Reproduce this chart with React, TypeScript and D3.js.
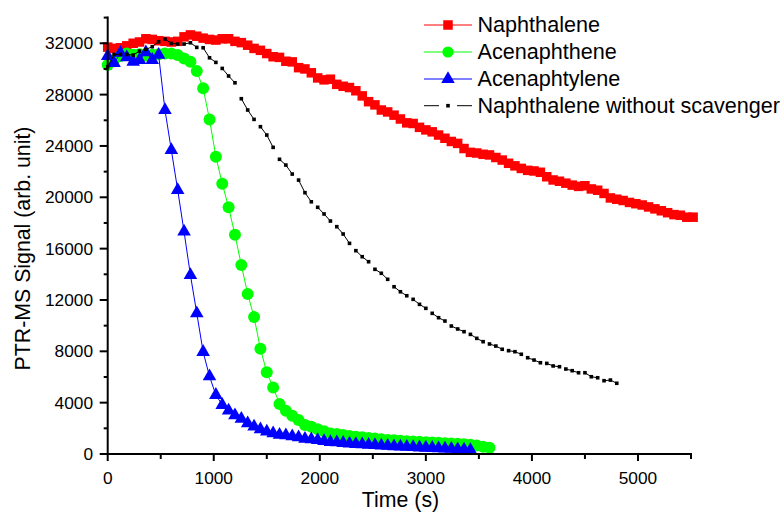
import React from "react";
import * as d3 from "d3";

const INTERVAL_S = 60;

const naphthalene = [
  31700, 31600, 31650, 31800, 32000, 32100, 32350, 32300, 32200, 32150,
  32100, 32150, 32500, 32650, 32550, 32400, 32300, 32250, 32350, 32350,
  32150, 32050, 31850, 31600, 31450, 31200, 30950, 30900, 30600, 30550,
  30100, 30000, 29700, 29300, 29150, 29200, 28800, 28650, 28550, 28300,
  27900, 27450, 27200, 26800, 26650, 26400, 26100, 25800, 25750, 25450,
  25250, 25100, 24850, 24600, 24350, 24200, 23800, 23500, 23450, 23350,
  23300, 23100, 22900, 22650, 22450, 22250, 22100, 22050, 21950, 21600,
  21350, 21250, 21100, 20950, 20850, 20900, 20650, 20550, 20300, 19950,
  19850, 19750, 19600, 19500, 19400, 19250, 19100, 18950, 18800, 18650,
  18600, 18450, 18450,
];

const acenaphthene = [
  30300, 30700, 31000, 31200, 31100, 31150, 31050, 31100, 31150, 31200,
  31200, 31080, 30820, 30560, 29830, 28490, 26070, 23160, 21060, 19220,
  17080, 14720, 12460, 10670, 8200, 6360, 5190, 3900, 3370, 2980,
  2650, 2260, 2130, 1920, 1770, 1600, 1550, 1480, 1400, 1350,
  1300, 1250, 1200, 1150, 1100, 1080, 1040, 1000, 980, 950,
  920, 890, 870, 840, 810, 800, 760, 720, 660, 570,
  480,
];

const acenaphtylene = [
  31000, 30450, 31250, 30900, 30550, 30700, 31300, 30700, 31100, 26800,
  23680, 20570, 17320, 13940, 10960, 7950, 6050, 4600, 3820, 3380,
  3020, 2740, 2390, 2130, 1920, 1740, 1610, 1500, 1450, 1380,
  1300, 1190, 1140, 1080, 1010, 935, 900, 860, 820, 780,
  750, 720, 690, 660, 630, 600, 575, 550, 530, 510,
  490, 470, 450, 430, 400, 370, 340, 310,
];

const naphthaleneNoScavenger = [
  30170, 31130, 31130, 31130, 31080, 31390, 31520, 31730, 32120, 32330,
  31990, 31940, 31940, 32040, 31680, 31650, 30870, 30510, 30040, 29450,
  28920, 27680, 26800, 26070, 25500, 24850, 23890, 22960, 22510, 21810,
  21340, 20360, 19650, 19220, 18700, 18150, 17710, 17140, 16410, 15840,
  15370, 14980, 14390, 14080, 13610, 13030, 12640, 12330, 12050, 11660,
  11350, 10960, 10620, 10360, 9970, 9740, 9530, 9320, 9010, 8750,
  8570, 8410, 8160, 8050, 7970, 7770, 7500, 7320, 7110, 7060,
  6860, 6800, 6620, 6490, 6330, 6330, 6020, 5940, 5710, 5760,
  5510,
];

const seriesNames = [
  "Naphthalene",
  "Acenaphthene",
  "Acenaphtylene",
  "Naphthalene without scavenger",
];

const xMajorTicks = [0, 1000, 2000, 3000, 4000, 5000];
const xMinorTicks = [500, 1500, 2500, 3500, 4500, 5500];
const yMajorTicks = [0, 4000, 8000, 12000, 16000, 20000, 24000, 28000, 32000];
const yMinorTicks = [2000, 6000, 10000, 14000, 18000, 22000, 26000, 30000, 34000];

const xTitle = "Time (s)";
const yTitle = "PTR-MS Signal (arb. unit)";

const W = 783;
const H = 513;
const FONT = "'Liberation Sans', Arial, sans-serif";

type Pt = [number, number];

export default function App() {
  const x = d3.scaleLinear().domain([0, 5500]).range([107.7, 691]);
  const y = d3.scaleLinear().domain([0, 34000]).range([454, 17.6]);

  const toPts = (vals: number[]): Pt[] =>
    vals.map((v, i) => [x(i * INTERVAL_S), y(v)] as Pt);

  const line = d3.line<Pt>().x((d) => d[0]).y((d) => d[1]);

  const red = toPts(naphthalene);
  const green = toPts(acenaphthene);
  const blue = toPts(acenaphtylene);
  const black = toPts(naphthaleneNoScavenger);

  const triPath = d3.symbol().type(d3.symbolTriangle).size(80)() || "";
  const sq = 9.5;
  const bsq = 3.6;

  // black series: dashed per point groups (two segments drawn, one skipped)
  const blackSegs: [Pt, Pt][] = [];
  for (let i = 0; i < black.length - 1; i++) {
    if (i % 3 !== 2) blackSegs.push([black[i], black[i + 1]]);
  }

  const legendY = [25, 52, 79, 105.7];
  const lx0 = 424;
  const lx1 = 472;
  const lmx = 448;

  return (
    <svg
      width={W}
      height={H}
      style={{ position: "absolute", left: 0, top: 0, background: "#fff" }}
      fontFamily={FONT}
    >
      <rect x={0} y={0} width={W} height={H} fill="#fff" />

      {/* Naphthalene */}
      <path d={line(red) || ""} fill="none" stroke="#ff0000" strokeWidth={1} />
      {red.map((p, i) => (
        <rect key={"r" + i} x={p[0] - sq / 2} y={p[1] - sq / 2} width={sq} height={sq} fill="#ff0000" />
      ))}

      {/* Acenaphthene */}
      <path d={line(green) || ""} fill="none" stroke="#00ff00" strokeWidth={1} />
      {green.map((p, i) => (
        <circle key={"g" + i} cx={p[0]} cy={p[1]} r={6} fill="#00ff00" />
      ))}

      {/* Acenaphtylene */}
      <path d={line(blue) || ""} fill="none" stroke="#0000ff" strokeWidth={1} />
      {blue.map((p, i) => (
        <path key={"b" + i} d={triPath} transform={`translate(${p[0]},${p[1]})`} fill="#0000ff" />
      ))}

      {/* Naphthalene without scavenger */}
      {blackSegs.map((s, i) => (
        <line key={"ks" + i} x1={s[0][0]} y1={s[0][1]} x2={s[1][0]} y2={s[1][1]} stroke="#000" strokeWidth={1} />
      ))}
      {black.map((p, i) => (
        <rect key={"k" + i} x={p[0] - bsq / 2} y={p[1] - bsq / 2} width={bsq} height={bsq} fill="#000" />
      ))}

      {/* Axes */}
      <line x1={x(0)} x2={x(5500)} y1={y(0)} y2={y(0)} stroke="#000" strokeWidth={2} strokeLinecap="square" />
      <line x1={x(0)} x2={x(0)} y1={y(0)} y2={y(34000)} stroke="#000" strokeWidth={2} strokeLinecap="square" />

      {xMajorTicks.map((t) => (
        <g key={"xt" + t}>
          <line x1={x(t)} x2={x(t)} y1={y(0)} y2={y(0) + 7} stroke="#000" strokeWidth={2} />
          <text x={x(t)} y={483.5} textAnchor="middle" fontSize={17.3} fill="#000">
            {t}
          </text>
        </g>
      ))}
      {xMinorTicks.map((t) => (
        <line key={"xm" + t} x1={x(t)} x2={x(t)} y1={y(0)} y2={y(0) + 5} stroke="#000" strokeWidth={2} />
      ))}
      {yMajorTicks.map((t) => (
        <g key={"yt" + t}>
          <line x1={x(0) - 8} x2={x(0)} y1={y(t)} y2={y(t)} stroke="#000" strokeWidth={2} />
          <text x={93} y={y(t) + 6} textAnchor="end" fontSize={17.3} fill="#000">
            {t}
          </text>
        </g>
      ))}
      {yMinorTicks.map((t) => (
        <line key={"ym" + t} x1={x(0) - 4} x2={x(0)} y1={y(t)} y2={y(t)} stroke="#000" strokeWidth={2} />
      ))}

      <text x={400.5} y={507} textAnchor="middle" fontSize={21.3} fill="#000">
        {xTitle}
      </text>
      <text
        transform={`translate(30,248.5) rotate(-90)`}
        textAnchor="middle"
        fontSize={21.3}
        fill="#000"
      >
        {yTitle}
      </text>

      {/* Legend */}
      <g>
        <line x1={lx0} x2={lx1} y1={legendY[0]} y2={legendY[0]} stroke="#ff0000" strokeWidth={1} />
        <rect x={lmx - sq / 2} y={legendY[0] - sq / 2} width={sq} height={sq} fill="#ff0000" />
        <line x1={lx0} x2={lx1} y1={legendY[1]} y2={legendY[1]} stroke="#00ff00" strokeWidth={1} />
        <circle cx={lmx} cy={legendY[1]} r={5.6} fill="#00ff00" />
        <line x1={lx0} x2={lx1} y1={legendY[2]} y2={legendY[2]} stroke="#0000ff" strokeWidth={1} />
        <path d={triPath} transform={`translate(${lmx},${legendY[2]})`} fill="#0000ff" />
        <line x1={lx0} x2={439} y1={legendY[3]} y2={legendY[3]} stroke="#000" strokeWidth={1} />
        <line x1={457} x2={lx1} y1={legendY[3]} y2={legendY[3]} stroke="#000" strokeWidth={1} />
        <rect x={lmx - bsq / 2} y={legendY[3] - bsq / 2} width={bsq} height={bsq} fill="#000" />
        {seriesNames.map((n, i) => (
          <text key={"ln" + i} x={477.5} y={legendY[i] + 7.3} fontSize={21.6} fill="#000">
            {n}
          </text>
        ))}
      </g>
    </svg>
  );
}
